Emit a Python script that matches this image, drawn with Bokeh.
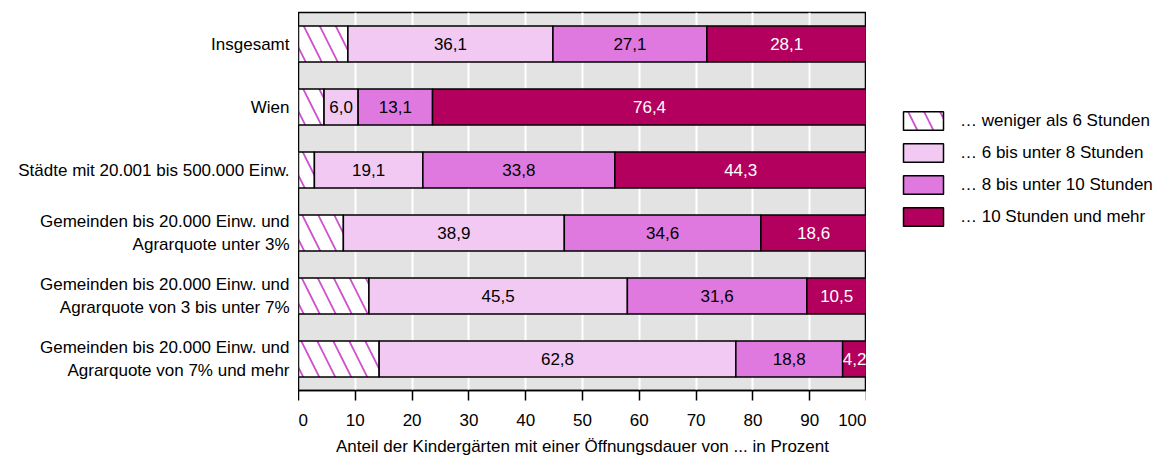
from bokeh.plotting import figure
from bokeh.layouts import row
from bokeh.models import ColumnDataSource, FactorRange, Legend, LegendItem, FixedTicker, Range1d
from bokeh.core.properties import value
from bokeh.embed import file_html
from bokeh.resources import INLINE

categories = [
    "Insgesamt",
    "Wien",
    "Städte mit 20.001 bis 500.000 Einw.",
    "Gemeinden bis 20.000 Einw. und Agrarquote unter 3%",
    "Gemeinden bis 20.000 Einw. und Agrarquote von 3 bis unter 7%",
    "Gemeinden bis 20.000 Einw. und Agrarquote von 7% und mehr",
]
category_lines = [
    ["Insgesamt"],
    ["Wien"],
    ["Städte mit 20.001 bis 500.000 Einw."],
    ["Gemeinden bis 20.000 Einw. und", "Agrarquote unter 3%"],
    ["Gemeinden bis 20.000 Einw. und", "Agrarquote von 3 bis unter 7%"],
    ["Gemeinden bis 20.000 Einw. und", "Agrarquote von 7% und mehr"],
]
series_names = [
    "… weniger als 6 Stunden",
    "… 6 bis unter 8 Stunden",
    "… 8 bis unter 10 Stunden",
    "… 10 Stunden und mehr",
]
under_6 = [8.7, 4.5, 2.8, 7.9, 12.4, 14.2]
from_6_to_8 = [36.1, 6.0, 19.1, 38.9, 45.5, 62.8]
from_8_to_10 = [27.1, 13.1, 33.8, 34.6, 31.6, 18.8]
over_10 = [28.1, 76.4, 44.3, 18.6, 10.5, 4.2]
x_ticks = [0, 10, 20, 30, 40, 50, 60, 70, 80, 90, 100]

FONT = "Liberation Sans"
FS = "17px"
fill_colors = ["white", "#f2c9f2", "#df78df", "#b3005e"]
text_colors = ["black", "black", "black", "white"]
hatch_kw = dict(hatch_pattern="\\", hatch_color="#d050d0", hatch_weight=1.8, hatch_scale=32)

FRAME_H = 378
TOP = 12
BOTTOM = 68

y_range = FactorRange(factors=list(reversed(categories)), range_padding=0)


def bare(fig):
    fig.xaxis.visible = False
    fig.yaxis.visible = False
    fig.grid.visible = False
    fig.outline_line_color = None
    fig.background_fill_color = "white"
    return fig


# ---- left: category labels ----
lab_fig = bare(figure(frame_width=298, frame_height=FRAME_H, min_border_left=0, min_border_right=0,
                      min_border_top=TOP, min_border_bottom=BOTTOM, y_range=y_range,
                      x_range=Range1d(0, 1), output_backend="svg", toolbar_location=None))
lab_cat, lab_txt, lab_off = [], [], []
for c, lines in zip(categories, category_lines):
    n = len(lines)
    for j, t in enumerate(lines):
        lab_cat.append(c)
        lab_txt.append(t)
        lab_off.append((j - (n - 1) / 2) * 23)
lab_fig.text(x=1, y="cat", text="txt", y_offset="off", x_offset=-9,
             source=ColumnDataSource(dict(cat=lab_cat, txt=lab_txt, off=lab_off)),
             text_align="right", text_baseline="middle", text_font=value(FONT),
             text_font_size=FS, text_color="black")

# ---- main chart ----
p = figure(
    frame_width=568, frame_height=FRAME_H,
    min_border_left=0, min_border_right=0, min_border_top=TOP, min_border_bottom=BOTTOM,
    y_range=y_range, x_range=Range1d(0, 100),
    output_backend="svg", toolbar_location=None,
)
p.background_fill_color = "#e3e3e3"
p.outline_line_color = "black"
p.outline_line_width = 1.5
p.xgrid.grid_line_color = "white"
p.xgrid.grid_line_width = 2
p.ygrid.grid_line_color = None
p.yaxis.visible = False

series = [under_6, from_6_to_8, from_8_to_10, over_10]
lefts = [0.0] * len(categories)
for i, vals in enumerate(series):
    rights = [l + v for l, v in zip(lefts, vals)]
    src = ColumnDataSource(dict(
        cat=categories, left=lefts, right=rights,
        mid=[(l + r) / 2 for l, r in zip(lefts, rights)],
        lab=[f"{v:.1f}".replace(".", ",") for v in vals],
    ))
    kw = hatch_kw if i == 0 else {}
    p.hbar(y="cat", left="left", right="right", height=0.57, source=src,
           fill_color=fill_colors[i], line_color="black", line_width=1.5, **kw)
    if i > 0:
        p.text(x="mid", y="cat", text="lab", source=src, text_align="center",
               text_baseline="middle", text_color=text_colors[i],
               text_font=value(FONT), text_font_size=FS)
    lefts = rights

p.xaxis.ticker = FixedTicker(ticks=x_ticks)
p.xaxis.axis_label = "Anteil der Kindergärten mit einer Öffnungsdauer von ... in Prozent"
p.xaxis.axis_label_text_font = FONT
p.xaxis.axis_label_text_font_size = FS
p.xaxis.axis_label_text_font_style = "normal"
p.xaxis.axis_label_text_color = "black"
p.xaxis.axis_label_standoff = 8
p.xaxis.major_label_text_font = FONT
p.xaxis.major_label_text_font_size = FS
p.xaxis.major_label_text_color = "black"
p.xaxis.major_tick_out = 10
p.xaxis.major_tick_in = 0
p.xaxis.major_tick_line_width = 1.5
p.xaxis.major_tick_line_color = "black"
p.xaxis.axis_line_color = "black"
p.xaxis.minor_tick_line_color = None
p.xaxis.axis_line_width = 1.5
p.xaxis.major_label_standoff = 13

# ---- right: legend (proxy renderers with no drawable extent) ----
leg_fig = bare(figure(frame_width=287, frame_height=FRAME_H, min_border_left=0, min_border_right=0,
                      min_border_top=TOP, min_border_bottom=BOTTOM, y_range=y_range,
                      x_range=Range1d(0, 1), output_backend="svg", toolbar_location=None))
proxy = ColumnDataSource(dict(cat=categories[:1], left=[float("nan")], right=[float("nan")]))
leg_renderers = []
for i in range(4):
    kw = hatch_kw if i == 0 else {}
    leg_renderers.append(leg_fig.hbar(y="cat", left="left", right="right", height=0.57, source=proxy,
                                      fill_color=fill_colors[i], line_color="black",
                                      line_width=1.5, **kw))
legend = Legend(
    items=[LegendItem(label=n, renderers=[r]) for n, r in zip(series_names, leg_renderers)],
    location=(27, 157), glyph_width=50, glyph_height=23, spacing=9, padding=5,
    label_standoff=12, label_text_font=FONT, label_text_font_size=FS, label_text_color="black",
    background_fill_alpha=0, border_line_alpha=0,
)
leg_fig.add_layout(legend, "center")

layout = row(lab_fig, p, leg_fig, spacing=0)
open("out.html", "w").write(file_html(layout, INLINE))
